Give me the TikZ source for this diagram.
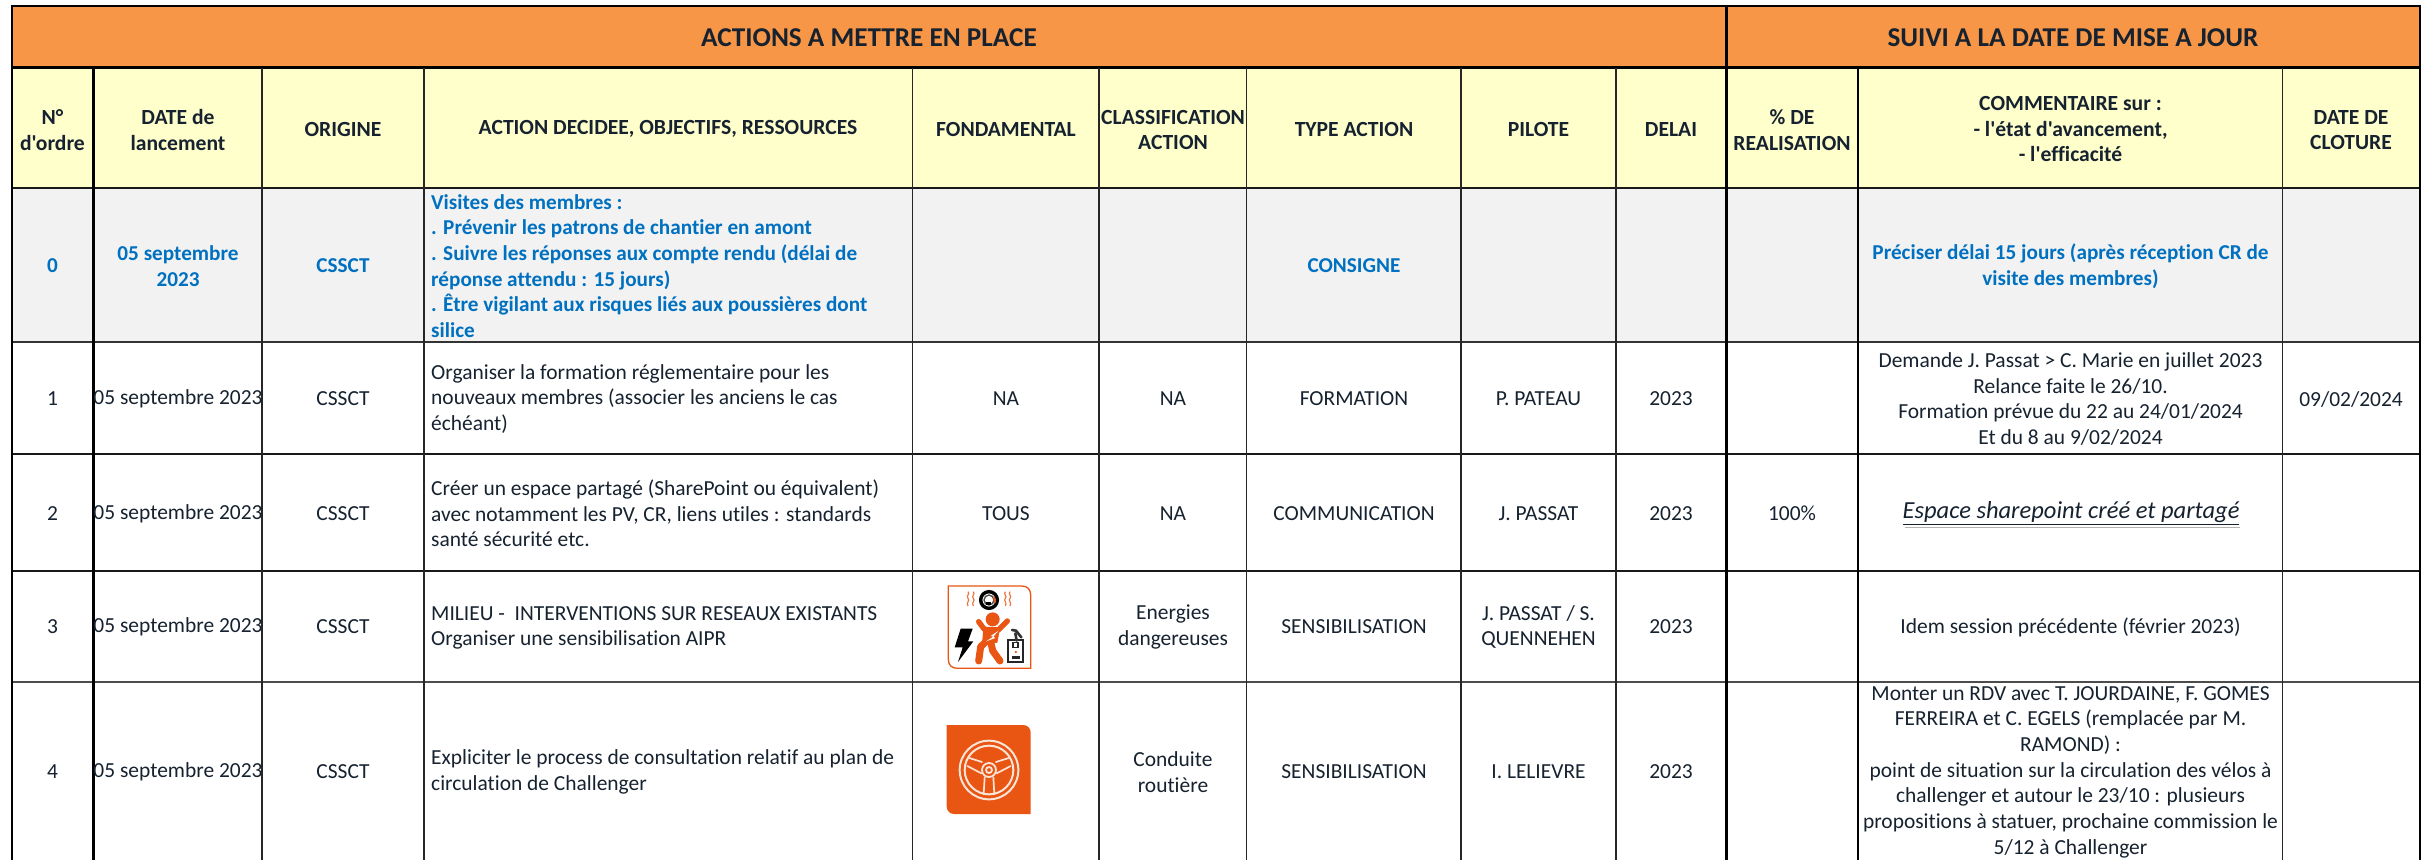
\documentclass[tikz,border=0pt]{standalone}
\usepackage{fontspec}
\newfontfamily\calib[Ligatures=NoCommon]{Carlito}
\definecolor{ink}{HTML}{16222F}
\definecolor{bluetxt}{HTML}{0070C0}
\definecolor{orangehead}{HTML}{F79646}
\definecolor{yellowhead}{HTML}{FFFFCC}
\definecolor{greyrow}{HTML}{F2F2F2}
\definecolor{iconorange}{HTML}{E95513}
\definecolor{wheelline}{HTML}{FBE3D6}
\tikzset{
  tcell/.style={inner sep=0pt,align=center,text=ink,font=\calib\fontsize{21.45}{25.7}\selectfont},
  hcell/.style={tcell,font=\calib\fontsize{21.6}{25.7}\selectfont\bfseries},
  bcell/.style={hcell,text=bluetxt,font=\calib\fontsize{21.2}{25.7}\selectfont\bfseries},
  title/.style={inner sep=0pt,align=center,text=ink,font=\calib\fontsize{27.2}{30}\selectfont\bfseries},
  lcell/.style={tcell,anchor=west,align=left},
  lblue/.style={bcell,anchor=west,align=left},
  thick rule/.style={line width=2.6pt,black},
  thin rule/.style={line width=1.2pt,black!85},
  hrule/.style={line width=2.1pt,black!90},
}
\begin{document}
\begin{tikzpicture}[x=1pt,y=-1pt]
\useasboundingbox (0,0) rectangle (2422,860);
\fill[white] (0,0) rectangle (2422,860);
% fills
\fill[orangehead] (12,6) rectangle (2420,68);
\fill[yellowhead] (12,68) rectangle (2420,188);
\fill[greyrow] (12,188) rectangle (2420,342);
% horizontal rules
\draw[thick rule] (10.7,6) -- (2421.3,6);
\draw[line width=3pt,black] (12,67.5) -- (2420,67.5);
\draw[hrule] (12,188) -- (2420,188);
\draw[hrule,black!80] (12,342) -- (2420,342);
\draw[hrule] (12,454) -- (2420,454);
\draw[hrule] (12,571) -- (2420,571);
\draw[line width=2.6pt,black!70] (12,682) -- (2420,682);
% vertical rules
\foreach \x in {12,1726.5,2420} \draw[thick rule] (\x,6) -- (\x,860);
\draw[thick rule] (93.6,68) -- (93.6,860);
\draw[line width=2.2pt,black] (1858,68) -- (1858,860);
\foreach \x in {262,424,912.6,1099,1246.7,1461,1616,2282.5} \draw[thin rule] (\x,68) -- (\x,860);
% titles
\node[title] (t1) at (869,38) {ACTIONS A METTRE EN PLACE};
\node[title] (t2) at (2073,38) {SUIVI A LA DATE DE MISE A JOUR};
% header row
\node[hcell] (h1) at (52.5,130) {N°\\d'ordre};
\node[hcell] (h2) at (178,130) {DATE de\\lancement};
\node[hcell] (h3) at (343,129) {ORIGINE};
\node[hcell] (h4) at (668,129) {ACTION DECIDEE, OBJECTIFS, RESSOURCES};
\node[hcell] (h5) at (1006,129) {FONDAMENTAL};
\node[hcell] (h6) at (1173,130) {CLASSIFICATION\\ACTION};
\node[hcell] (h7) at (1354,129) {TYPE ACTION};
\node[hcell] (h8) at (1538.5,129) {PILOTE};
\node[hcell] (h9) at (1671,129) {DELAI};
\node[hcell] (h10) at (1792,130) {\% DE\\REALISATION};
\node[hcell] (h11) at (2070.5,129) {COMMENTAIRE sur :\\- l'état d'avancement,\\- l'efficacité};
\node[hcell] (h12) at (2351,130) {DATE DE\\CLOTURE};
% row 0
\node[bcell] (a0) at (52.5,266) {0};
\node[bcell] (b0) at (178,266) {05 septembre\\2023};
\node[bcell] (c0) at (343,266) {CSSCT};
\node[lblue] (d0) at (431,266) {Visites des membres :\\. Prévenir les patrons de chantier en amont\\. Suivre les réponses aux compte rendu (délai de\\réponse attendu : 15 jours)\\. Être vigilant aux risques liés aux poussières dont\\silice};
\node[bcell] (g0) at (1354,266) {CONSIGNE};
\node[bcell] (k0) at (2070.5,266) {Préciser délai 15 jours (après réception CR de\\visite des membres)};
% row 1
\node[tcell] (a1) at (52.5,399) {1};
\node[tcell] (b1) at (178,399) {05 septembre 2023};
\node[tcell] (c1) at (343,399) {CSSCT};
\node[lcell] (d1) at (431,399) {Organiser la formation réglementaire pour les\\nouveaux membres (associer les anciens le cas\\échéant)};
\node[tcell] (e1) at (1006,399) {NA};
\node[tcell] (f1) at (1173,399) {NA};
\node[tcell] (g1) at (1354,399) {FORMATION};
\node[tcell] (h1r) at (1538.5,399) {P. PATEAU};
\node[tcell] (i1) at (1671,399) {2023};
\node[tcell] (k1) at (2070.5,399) {Demande J. Passat > C. Marie en juillet 2023\\Relance faite le 26/10.\\Formation prévue du 22 au 24/01/2024\\Et du 8 au 9/02/2024};
\node[tcell] (l1) at (2351,399) {09/02/2024};
% row 2
\node[tcell] (a2) at (52.5,513.5) {2};
\node[tcell] (b2) at (178,513.5) {05 septembre 2023};
\node[tcell] (c2) at (343,513.5) {CSSCT};
\node[lcell] (d2) at (431,513.5) {Créer un espace partagé (SharePoint ou équivalent)\\avec notamment les PV, CR, liens utiles : standards\\santé sécurité etc.};
\node[tcell] (e2) at (1006,513.5) {TOUS};
\node[tcell] (f2) at (1173,513.5) {NA};
\node[tcell] (g2) at (1354,513.5) {COMMUNICATION};
\node[tcell] (h2r) at (1538.5,513.5) {J. PASSAT};
\node[tcell] (i2) at (1671,513.5) {2023};
\node[tcell] (j2) at (1792,513.5) {100\%};
\draw[line width=1.6pt,black!30] (1905,527.6) -- (2240,527.6);
\node[tcell,font=\calib\fontsize{24.5}{28}\selectfont\itshape] (k2) at (2071,513.5) {\underline{Espace sharepoint créé et partagé}};
% row 3
\node[tcell] (a3) at (52.5,627) {3};
\node[tcell] (b3) at (178,627) {05 septembre 2023};
\node[tcell] (c3) at (343,627) {CSSCT};
\node[lcell] (d3) at (431,628) {MILIEU -\ \ INTERVENTIONS SUR RESEAUX EXISTANTS\\Organiser une sensibilisation AIPR};
\node[tcell] (f3) at (1173,627) {Energies\\dangereuses};
\node[tcell] (g3) at (1354,627) {SENSIBILISATION};
\node[tcell] (h3r) at (1538.5,627) {J. PASSAT / S.\\QUENNEHEN};
\node[tcell] (i3) at (1671,627) {2023};
\node[tcell] (k3) at (2070.5,627) {Idem session précédente (février 2023)};
% row 4
\node[tcell] (a4) at (52.5,772) {4};
\node[tcell] (b4) at (178,772) {05 septembre 2023};
\node[tcell] (c4) at (343,772) {CSSCT};
\node[lcell] (d4) at (431,772) {Expliciter le process de consultation relatif au plan de\\circulation de Challenger};
\node[tcell] (f4) at (1173,772) {Conduite\\routière};
\node[tcell] (g4) at (1354,772) {SENSIBILISATION};
\node[tcell] (h4r) at (1538.5,772) {I. LELIEVRE};
\node[tcell] (i4) at (1671,772) {2023};
\node[tcell] (k4) at (2070.5,772) {Monter un RDV avec T. JOURDAINE, F. GOMES\\FERREIRA et C. EGELS (remplacée par M.\\RAMOND) :\\point de situation sur la circulation des vélos à\\challenger et autour le 23/10 : plusieurs\\propositions à statuer, prochaine commission le\\5/12 à Challenger};
% icon 1: energies
\begin{scope}[shift={(940,580)},scale=1/3]
  \draw[iconorange,line width=1.3pt,fill=white] (25,18) -- (245,18) .. controls (262,18) and (272,28) .. (272,45) -- (272,265) -- (52,265) .. controls (35,265) and (25,255) .. (25,238) -- cycle;
  % gauge
  \draw[black,line width=3.4pt,fill=white] (147,60) circle[radius=25];
  \draw[black!70,line width=1.4pt] (147,60) circle[radius=15];
  \draw[iconorange,line width=2pt] (162,50) -- (165,68);
  \fill[black] (137,66) rectangle (152,74);
  % vibration waves
  \foreach \xa/\s in {84/1,100/1,196/-1,210/-1}
    \draw[iconorange!80,line width=1.2pt] (\xa,35) .. controls (\xa+7*\s,42) and (\xa-7*\s,48) .. (\xa,55) .. controls (\xa+7*\s,62) and (\xa-7*\s,68) .. (\xa,78);
  % person
  \fill[iconorange] (158,118) circle[radius=21];
  \draw[iconorange,line width=5.4pt,line cap=round,line join=round] (116,125) -- (133,148) -- (175,150) -- (202,123);
  \fill[iconorange] (130,146) -- (180,146) -- (172,188) -- (126,192) -- cycle;
  \draw[iconorange,line width=7pt,line cap=round,line join=round] (143,180) -- (122,200) -- (116,243);
  \draw[iconorange,line width=7pt,line cap=round,line join=round] (152,185) -- (158,212) -- (180,243);
  \fill[white] (176,152) -- (152,168) -- (160,170) -- (138,184) -- (166,174) -- (160,170) -- cycle;
  % black bolt
  \fill[black] (62,146) -- (98,146) -- (84,184) -- (100,184) -- (54,246) -- (68,202) -- (44,202) -- cycle;
  % device
  \draw[black!85,line width=1.8pt] (205,180) -- (205,245) -- (250,245) -- (250,180) -- cycle;
  \fill[black!85] (217,185) rectangle (238,205);
  \fill[white] (223,190) rectangle (232,200);
  \fill[iconorange] (227.5,216) circle[radius=3.5];
  \fill[black!85] (215,228) rectangle (240,238);
  \draw[black!80,line width=2.6pt,line cap=round] (216,150) -- (228,152) -- (244,172);
  \draw[black!80,line width=2.6pt,line cap=round] (226,160) -- (230,182);
\end{scope}
% icon 2: steering wheel
\begin{scope}[shift={(940,720)},scale=1/3]
  \fill[iconorange] (20,15) -- (250,15) .. controls (262,15) and (272,25) .. (272,37) -- (272,282) -- (42,282) .. controls (30,282) and (20,272) .. (20,260) -- cycle;
  \draw[wheelline,line width=2pt] (147,150) circle[radius=88];
  \draw[wheelline,line width=2pt] (147,150) circle[radius=73];
  \draw[wheelline,line width=1.8pt] (147,150) circle[radius=21];
  \draw[wheelline,line width=1.8pt] (147,150) circle[radius=9];
  \draw[wheelline,line width=1.7pt,line cap=round] (88,114) -- (126,126);
  \draw[wheelline,line width=1.7pt,line cap=round] (82,138) -- (124,160);
  \draw[wheelline,line width=1.7pt,line cap=round] (206,114) -- (168,126);
  \draw[wheelline,line width=1.7pt,line cap=round] (212,138) -- (170,160);
  \draw[wheelline,line width=1.7pt,line cap=round] (134,172) -- (131,222);
  \draw[wheelline,line width=1.7pt,line cap=round] (160,172) -- (163,222);
\end{scope}
\end{tikzpicture}
\end{document}
